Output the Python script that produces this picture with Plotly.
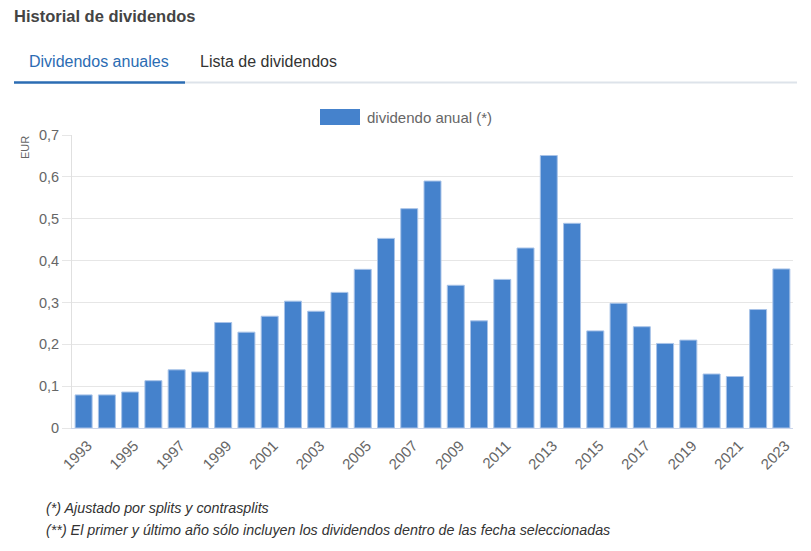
import plotly.graph_objects as go

years = list(range(1993, 2024))
dividends = [0.079, 0.079, 0.086, 0.113, 0.139, 0.134, 0.252, 0.229, 0.267, 0.303,
             0.279, 0.324, 0.379, 0.453, 0.524, 0.590, 0.341, 0.256, 0.355, 0.430,
             0.651, 0.489, 0.232, 0.298, 0.242, 0.202, 0.210, 0.129, 0.123, 0.283, 0.380]
y_ticks = [0, 0.1, 0.2, 0.3, 0.4, 0.5, 0.6, 0.7]
y_tick_labels = ["0", "0,1", "0,2", "0,3", "0,4", "0,5", "0,6", "0,7"]
x_tick_labels = [str(y) for y in years[::2]]

FONT = "Liberation Sans, Arial, sans-serif"
BAR = "#4582cc"

fig = go.Figure()
fig.add_trace(go.Bar(
    x=[str(y) for y in years], y=dividends, name="dividendo anual (*)",
    marker=dict(color=BAR, line=dict(color="#a8c3e8", width=1)),
    showlegend=False,
))

W, H = 811, 551
ml, mr, mt, mb = 72, 18, 135, 123

def px(x):
    return (x - ml) / (W - ml - mr)

def py(y):
    return (H - mb - y) / (H - mt - mb)

fig.update_layout(
    width=W, height=H,
    margin=dict(l=ml, r=mr, t=mt, b=mb),
    paper_bgcolor="white", plot_bgcolor="white",
    font=dict(family=FONT, color="#666666", size=14),
    bargap=0.27,
    xaxis=dict(
        type="category", tickmode="array", tickvals=x_tick_labels, ticktext=x_tick_labels,
        tickangle=-45, tickfont=dict(size=15, color="#666666"),
        ticklabelshift=4, ticklabelstandoff=2,
        showgrid=False, showline=True, linecolor="#ccd6eb", linewidth=1,
        ticks="", fixedrange=True,
    ),
    yaxis=dict(
        range=[0, 0.7], tickmode="array", tickvals=y_ticks, ticktext=y_tick_labels,
        tickfont=dict(size=14.5, color="#666666"),
        showgrid=True, gridcolor="#e6e6e6", gridwidth=1,
        showline=True, linecolor="#e0e0e0", linewidth=1,
        ticks="outside", ticklen=9, tickcolor="#e6e6e6",
        zeroline=False, fixedrange=True,
    ),
    shapes=[
        # tabs underline
        dict(type="line", xref="paper", yref="paper", x0=px(185), x1=px(797), y0=py(82.5), y1=py(82.5),
             line=dict(color="#dde3ea", width=2)),
        dict(type="line", xref="paper", yref="paper", x0=px(14), x1=px(185), y0=py(82.5), y1=py(82.5),
             line=dict(color="#2b6cb3", width=2.5)),
        # legend swatch
        dict(type="rect", xref="paper", yref="paper", x0=px(320), x1=px(360), y0=py(125), y1=py(109),
             fillcolor=BAR, line=dict(width=0)),
    ],
    annotations=[
        dict(text="<b>Historial de dividendos</b>", xref="paper", yref="paper",
             x=px(12), y=py(16), xanchor="left", yanchor="middle", showarrow=False,
             font=dict(size=16.5, color="#444444", family=FONT)),
        dict(text="Dividendos anuales", xref="paper", yref="paper",
             x=px(27), y=py(61), xanchor="left", yanchor="middle", showarrow=False,
             font=dict(size=16, color="#2b6cb3", family=FONT)),
        dict(text="Lista de dividendos", xref="paper", yref="paper",
             x=px(198), y=py(61), xanchor="left", yanchor="middle", showarrow=False,
             font=dict(size=16, color="#333333", family=FONT)),
        dict(text="dividendo anual (*)", xref="paper", yref="paper",
             x=px(365), y=py(117), xanchor="left", yanchor="middle", showarrow=False,
             font=dict(size=15, color="#666666", family=FONT)),
        dict(text="EUR", xref="paper", yref="paper", textangle=-90,
             x=px(25), y=py(148), xanchor="center", yanchor="middle", showarrow=False,
             font=dict(size=11, color="#666666", family=FONT)),
        dict(text="<i>(*) Ajustado por splits y contrasplits</i>", xref="paper", yref="paper",
             x=px(44), y=py(508), xanchor="left", yanchor="middle", showarrow=False,
             font=dict(size=14.3, color="#333333", family=FONT)),
        dict(text="<i>(**) El primer y último año sólo incluyen los dividendos dentro de las fecha seleccionadas</i>",
             xref="paper", yref="paper",
             x=px(44), y=py(530), xanchor="left", yanchor="middle", showarrow=False,
             font=dict(size=14.3, color="#333333", family=FONT)),
    ],
)

fig.write_html("out.html")
